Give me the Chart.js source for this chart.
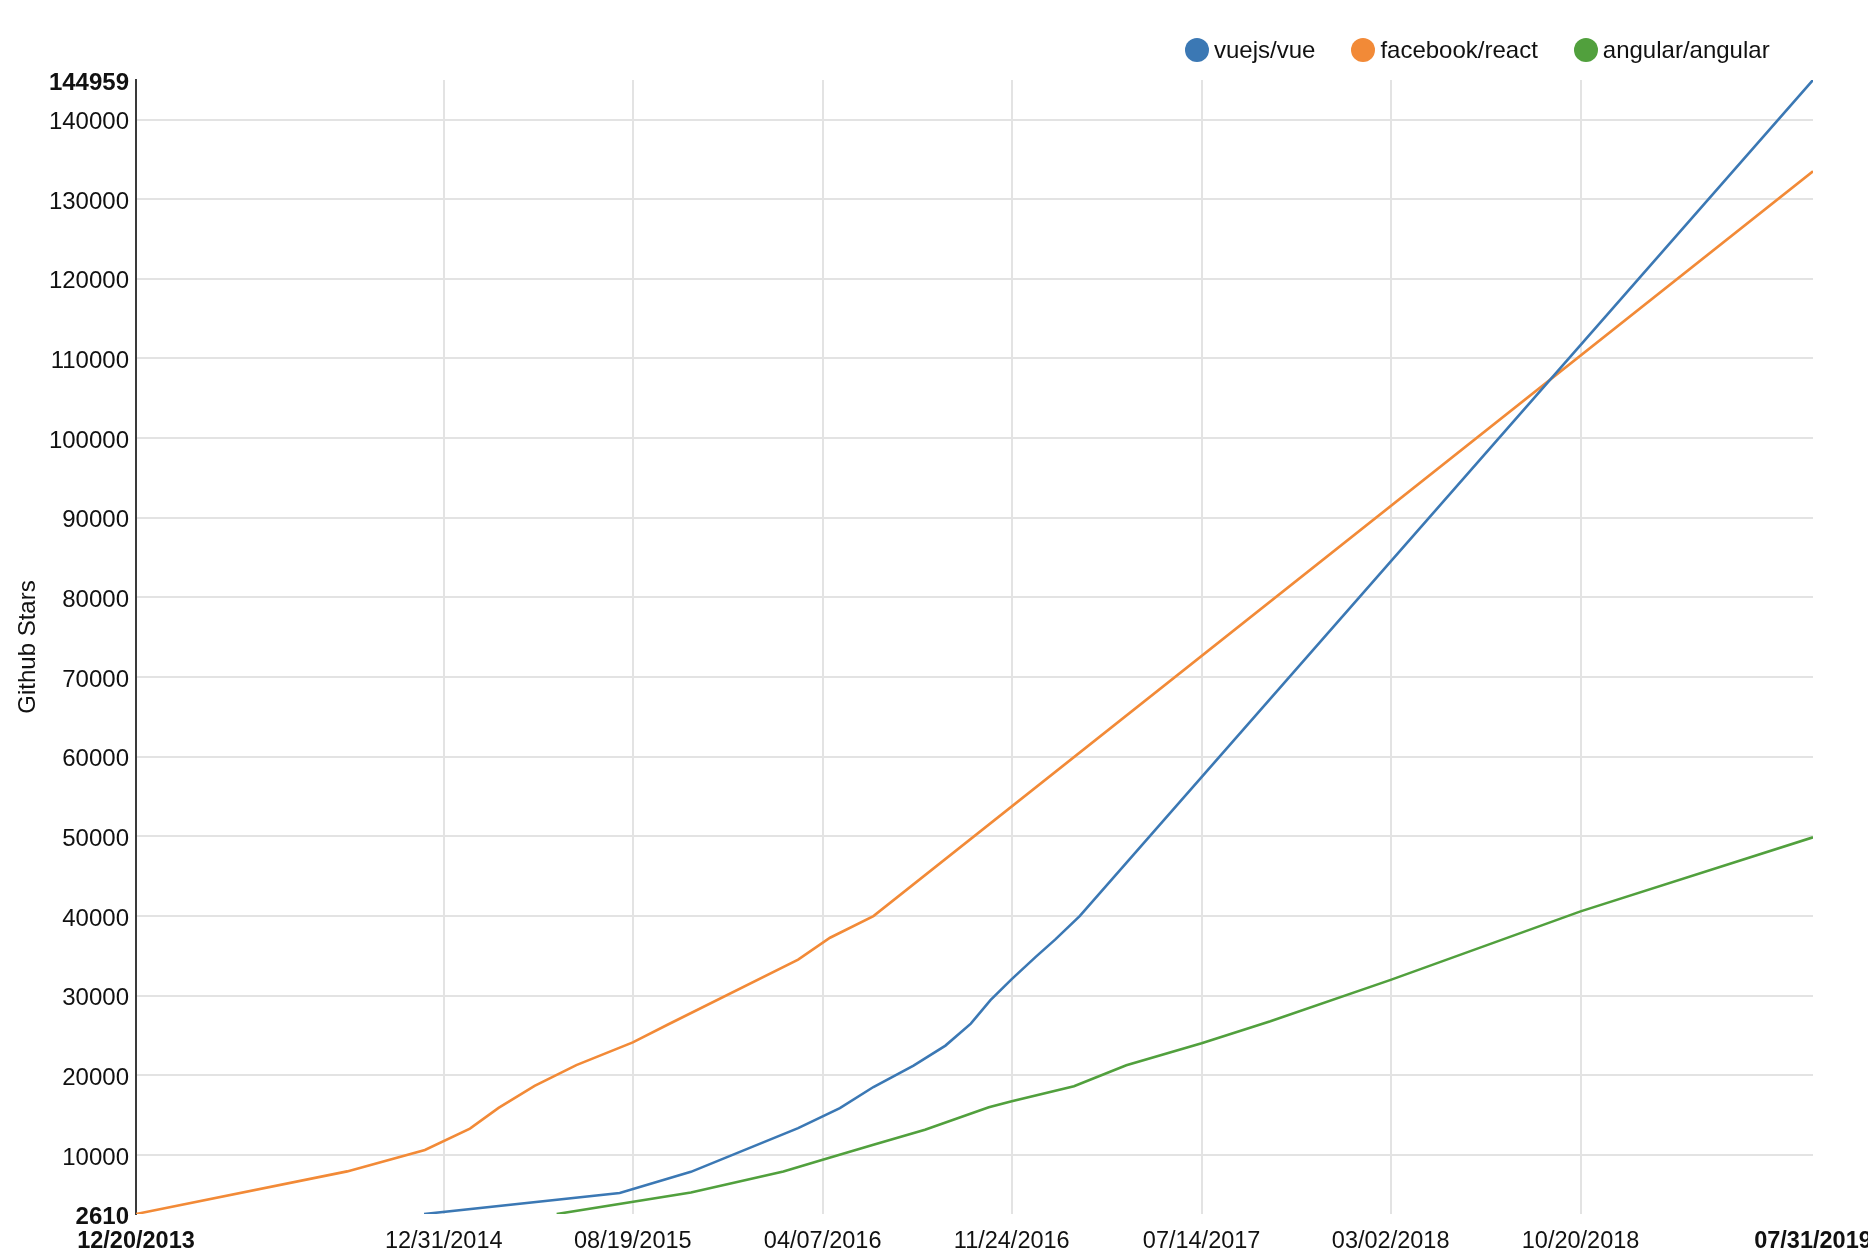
<!DOCTYPE html>
<html>
<head>
<meta charset="utf-8">
<title>Github Stars</title>
<script src="https://cdn.jsdelivr.net/npm/chart.js@4.4.1/dist/chart.umd.min.js"></script>
<style>
  html, body { margin: 0; padding: 0; background: #fff; overflow: hidden; }
  #wrap { position: relative; width: 1868px; height: 1256px; }
  #legend {
    position: absolute; left: 1185px; top: 36px;
    display: flex; align-items: center;
    font-family: "Liberation Sans", Arial, sans-serif; font-size: 24px; color: #111;
  }
  .item { display: flex; align-items: center; margin-right: 36px; }
  .dot { width: 24px; height: 24px; border-radius: 50%; margin-right: 5px; }
</style>
</head>
<body>
<div id="wrap">
  <canvas id="stars" width="1868" height="1256"></canvas>
  <div id="legend"></div>
</div>
<script>
// repos shown, in legend order
const repoNames = ['vuejs/vue', 'facebook/react', 'angular/angular'];
const repoColors = ['#3b78b4', '#f28a37', '#51a03d'];

// points (MM/DD/YYYY, stars)
const vueDates = ['12/07/2014', '08/03/2015', '10/29/2015', '03/08/2016', '04/28/2016', '06/08/2016',
  '07/27/2016', '09/04/2016', '10/05/2016', '10/29/2016', '11/24/2016', '12/24/2016', '01/16/2017',
  '02/15/2017', '07/31/2019'];
const vueStars = [2610, 5250, 7900, 13390, 15900, 18550, 21230, 23750, 26500, 29450, 32100, 34950, 37050,
  40000, 144959];

const reactDates = ['12/20/2013', '09/04/2014', '12/08/2014', '02/01/2015', '03/08/2015', '04/21/2015',
  '06/11/2015', '08/19/2015', '10/01/2015', '03/08/2016', '04/16/2016', '06/08/2016', '07/31/2019'];
const reactStars = [2610, 7960, 10650, 13330, 15930, 18700, 21300, 24150, 26400, 34550, 37290, 40000, 133500];

const angularDates = ['05/18/2015', '10/29/2015', '02/19/2016', '04/07/2016', '06/08/2016', '08/10/2016',
  '10/27/2016', '11/24/2016', '02/08/2017', '04/13/2017', '07/14/2017', '10/06/2017', '03/02/2018',
  '10/20/2018', '07/31/2019'];
const angularStars = [2610, 5320, 7950, 9420, 11300, 13190, 16000, 16760, 18640, 21290, 24050, 26800, 32000,
  40600, 49900];

// axis ticks
const xTickLabels = ['12/20/2013', '12/31/2014', '08/19/2015', '04/07/2016', '11/24/2016', '07/14/2017',
  '03/02/2018', '10/20/2018', '07/31/2019'];
const yTicks = [2610, 10000, 20000, 30000, 40000, 50000, 60000, 70000, 80000, 90000, 100000, 110000,
  120000, 130000, 140000, 144959];

let toTime = function(s){
    const [m, d, y] = s.split('/').map(Number);
    return Date.UTC(y, m - 1, d);
};

let toPoints = function(dates, stars){
    return dates.map((d, i) => ({x: toTime(d), y: stars[i]}));
};

const xTicks = xTickLabels.map(toTime);
const xMin = xTicks[0], xMax = xTicks[xTicks.length - 1];
const yMin = yTicks[0], yMax = yTicks[yTicks.length - 1];

const series = [toPoints(vueDates, vueStars), toPoints(reactDates, reactStars), toPoints(angularDates, angularStars)];

// html legend
const legend = document.getElementById('legend');
repoNames.forEach((name, i) => {
    legend.insertAdjacentHTML('beforeend',
        `<div class="item"><span class="dot" style="background:${repoColors[i]}"></span><span>${name}</span></div>`);
});

Chart.defaults.font.family = '"Liberation Sans", Arial, sans-serif';
Chart.defaults.font.size = 24;
Chart.defaults.color = '#111';

const edgeFont = (isEdge, size) => ({ size: size, weight: isEdge ? 'bold' : 'normal' });

new Chart(document.getElementById('stars'), {
    type: 'line',
    data: {
        datasets: repoNames.map((name, i) => ({
            label: name,
            data: series[i],
            borderColor: repoColors[i],
            backgroundColor: repoColors[i],
            borderWidth: 2.6,
            pointRadius: 0,
            tension: 0,
            fill: false
        }))
    },
    options: {
        responsive: false,
        animation: false,
        layout: { padding: { top: 80, right: 55, left: 0, bottom: 0 } },
        plugins: { legend: { display: false }, tooltip: { enabled: false } },
        scales: {
            x: {
                type: 'linear',
                min: xMin,
                max: xMax,
                afterBuildTicks: (scale) => { scale.ticks = xTicks.map(v => ({ value: v })); },
                afterFit: (scale) => { scale.height = 42; scale.paddingLeft = 0; scale.paddingRight = 0; },
                ticks: {
                    autoSkip: false,
                    maxRotation: 0,
                    padding: 13,
                    color: '#111',
                    callback: (value, index) => xTickLabels[index],
                    font: (ctx) => edgeFont(ctx.index === 0 || ctx.index === xTickLabels.length - 1, 23.5)
                },
                grid: {
                    drawTicks: false,
                    lineWidth: 2,
                    color: (ctx) => (ctx.index === 0 || ctx.index === xTickLabels.length - 1) ? 'rgba(0,0,0,0)' : '#e3e3e3'
                },
                border: { display: false }
            },
            y: {
                type: 'linear',
                min: yMin,
                max: yMax,
                afterBuildTicks: (scale) => { scale.ticks = yTicks.map(v => ({ value: v })); },
                afterFit: (scale) => { scale.width = 136; },
                ticks: {
                    padding: 7,
                    labelOffset: 3,
                    color: '#111',
                    callback: (value) => String(value),
                    font: (ctx) => edgeFont(ctx.tick && (ctx.tick.value === yMin || ctx.tick.value === yMax), 24)
                },
                grid: {
                    drawTicks: false,
                    lineWidth: 2,
                    color: (ctx) => (ctx.tick && (ctx.tick.value === yMin || ctx.tick.value === yMax)) ? 'rgba(0,0,0,0)' : '#e3e3e3'
                },
                border: { display: true, color: '#3a3a3a', width: 2 },
                title: {
                    display: true,
                    text: 'Github Stars',
                    color: '#111',
                    font: { size: 24 },
                    padding: { top: 14, bottom: 0 }
                }
            }
        }
    }
});
</script>
</body>
</html>
